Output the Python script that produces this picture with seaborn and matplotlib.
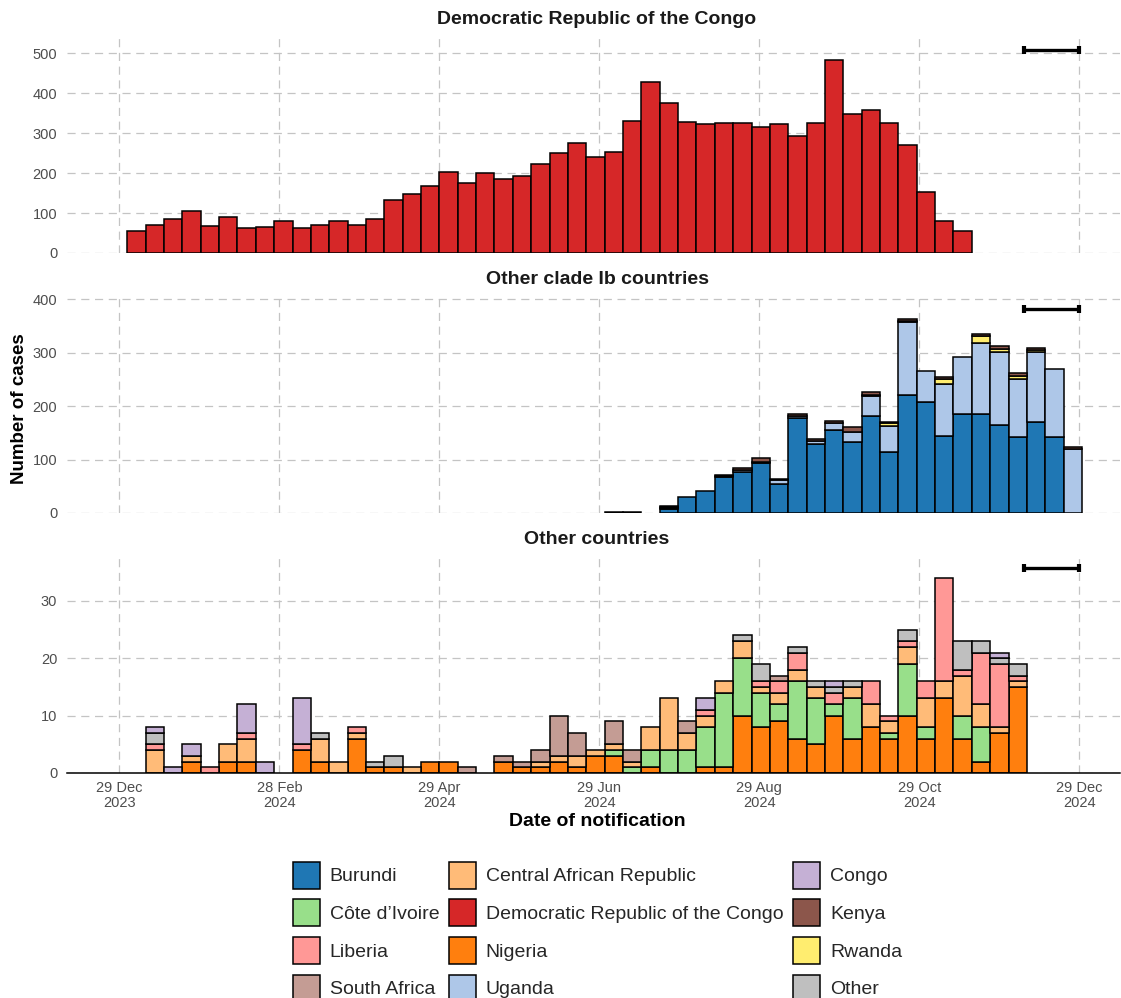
import numpy as np
import pandas as pd
import matplotlib
matplotlib.use("Agg")
import matplotlib.pyplot as plt
import matplotlib.dates as mdates
from matplotlib.patches import Patch
import seaborn as sns

# ---------------- data ----------------
week_start = "2024-01-01"      # Monday of the first weekly bin
n_weeks = 52

drc = [56, 71, 85, 105, 67, 90, 62, 64, 80, 63,
       71, 80, 70, 85, 132, 147, 167, 202, 175, 200,
       185, 193, 224, 250, 275, 241, 253, 332, 428, 377,
       327, 323, 325, 326, 316, 322, 293, 325, 484, 349,
       358, 325, 271, 154, 79, 54, 0, 0, 0, 0,
       0, 0]

burundi = [0] * 26 + [1, 1, 0, 7, 30, 42, 67, 77, 94, 55,
                      177, 130, 155, 133, 182, 115, 220, 208, 144, 185,
                      185, 164, 143, 170, 143, 0]
uganda = [0] * 26 + [0, 0, 0, 2, 0, 0, 2, 4, 2, 6,
                     5, 5, 14, 19, 37, 48, 137, 57, 97, 106,
                     133, 138, 108, 132, 126, 119]
rwanda = [0] * 26 + [0, 0, 0, 3, 0, 0, 0, 0, 0, 0,
                     0, 0, 0, 0, 2, 5, 2, 0, 10, 0,
                     14, 5, 5, 3, 0, 0]
kenya = [0] * 26 + [0, 0, 0, 2, 0, 0, 2, 3, 7, 3,
                    4, 3, 4, 8, 6, 3, 4, 0, 4, 0,
                    3, 5, 6, 3, 0, 4]

nigeria = [0, 0, 0, 2, 0, 2, 2, 0, 0, 4,
           2, 0, 6, 1, 1, 0, 2, 2, 0, 0,
           2, 1, 1, 2, 1, 3, 3, 0, 1, 0,
           0, 1, 1, 10, 8, 9, 6, 5, 10, 6,
           8, 6, 10, 6, 13, 6, 2, 7, 15, 0,
           0, 0]
cote_divoire = [0] * 20 + [0, 0, 0, 0, 0, 0, 1, 1, 3, 4,
                           4, 7, 13, 10, 6, 3, 10, 8, 2, 7,
                           0, 1, 9, 2, 0, 4, 6, 0, 0, 0,
                           0, 0]
car = [0, 4, 0, 1, 0, 3, 4, 0, 0, 0,
       4, 2, 1, 0, 0, 1, 0, 0, 0, 0,
       0, 0, 1, 1, 2, 1, 1, 1, 4, 9,
       3, 2, 2, 3, 1, 2, 2, 2, 0, 2,
       4, 2, 3, 5, 3, 7, 4, 1, 1, 0,
       0, 0]
liberia = [0, 1, 0, 0, 1, 0, 1, 0, 0, 1,
           0, 0, 1, 0, 0, 0, 0, 0, 0, 0,
           0, 0, 0, 0, 0, 0, 0, 0, 0, 0,
           0, 1, 0, 0, 1, 2, 3, 0, 2, 0,
           4, 1, 1, 3, 18, 1, 9, 11, 1, 0,
           0, 0]
south_africa = [0] * 10 + [0, 0, 0, 0, 0, 0, 0, 0, 1, 0,
                           1, 1, 2, 7, 4, 0, 4, 2, 0, 0,
                           2, 0, 0, 0, 0, 1, 0, 0, 0, 0] + [0] * 12
other = [0, 2, 0, 0, 0, 0, 0, 0, 0, 0,
         1, 0, 0, 1, 2, 0, 0, 0, 0, 0,
         0, 0, 0, 0, 0, 0, 0, 0, 0, 0,
         0, 0, 0, 1, 3, 0, 1, 1, 1, 1,
         0, 0, 2, 0, 0, 5, 2, 1, 2, 0,
         0, 0]
congo = [0, 1, 1, 2, 0, 0, 5, 2, 0, 8] + [0] * 20 + \
        [0, 2, 0, 0, 0, 0, 0, 0, 1, 0,
         0, 0, 0, 0, 0, 0, 0, 1, 0, 0,
         0, 0]

CIV = "Côte d\u2019Ivoire"
DRC = "Democratic Republic of the Congo"

series = {
    DRC: drc,
    "Burundi": burundi, "Uganda": uganda, "Rwanda": rwanda, "Kenya": kenya,
    "Nigeria": nigeria, CIV: cote_divoire,
    "Central African Republic": car, "Liberia": liberia,
    "South Africa": south_africa, "Other": other, "Congo": congo,
}

panels = [DRC, "Other clade Ib countries", "Other countries"]
# stacking order bottom -> top within each panel
panel_countries = {
    panels[0]: [DRC],
    panels[1]: ["Burundi", "Uganda", "Rwanda", "Kenya"],
    panels[2]: ["Nigeria", CIV, "Central African Republic", "Liberia",
                "South Africa", "Other", "Congo"],
}
panel_yticks = {panels[0]: [0, 100, 200, 300, 400, 500],
                panels[1]: [0, 100, 200, 300, 400],
                panels[2]: [0, 10, 20, 30]}

colors = {
    "Burundi": "#1f77b4", "Central African Republic": "#ffbb78", "Congo": "#c5b0d5",
    CIV: "#98df8a", DRC: "#d62728",
    "Kenya": "#8c564b", "Liberia": "#ff9896", "Nigeria": "#ff7f0e",
    "Rwanda": "#ffed6f", "South Africa": "#c49c94", "Uganda": "#aec7e8",
    "Other": "#bfbfbf",
}
legend_order = ["Burundi", "Central African Republic", "Congo",
                CIV, DRC, "Kenya",
                "Liberia", "Nigeria", "Rwanda",
                "South Africa", "Uganda", "Other"]

tick_dates = ["2023-12-29", "2024-02-28", "2024-04-29", "2024-06-29",
              "2024-08-29", "2024-10-29", "2024-12-29"]
tick_labels = ["29 Dec\n2023", "28 Feb\n2024", "29 Apr\n2024", "29 Jun\n2024",
               "29 Aug\n2024", "29 Oct\n2024", "29 Dec\n2024"]
delay_window = ["2024-12-08", "2024-12-29"]
x_range = ["2023-12-09 00:00", "2025-01-13 12:00"]


def to_num(dates):
    return mdates.date2num(pd.to_datetime(dates, format="mixed").to_pydatetime())


# ---------------- build long table ----------------
weeks = pd.date_range(week_start, periods=n_weeks, freq="7D")
wnum = mdates.date2num(weeks.to_pydatetime())
edges = [float(v) for v in np.append(wnum, wnum[-1] + 7)]
rows = []
for country, vals in series.items():
    for w, v in zip(wnum, vals):
        if v > 0:
            rows.append({"week": w + 3.5, "country": country, "cases": v})
df = pd.DataFrame(rows)
df["panel"] = df["country"].map({c: p for p, cs in panel_countries.items() for c in cs})

# ---------------- style ----------------
sns.set_style("white")
plt.rcParams["font.family"] = ["Liberation Sans", "DejaVu Sans"]

W, H = 1121, 998
fig = plt.figure(figsize=(W / 100, H / 100), dpi=100)

left_px, right_px = 67, 1120
panel_px = [(37, 253), (296, 513), (555, 773)]   # (top, bottom) in pixels
title_y = [19, 279, 539]

grid_kw = dict(color="#c4c4c4", linestyle=(0, (6.5, 4.5)), linewidth=0.9)
tick_color = "#4d4d4d"

xnum_ticks = to_num(tick_dates)
xlim = to_num(x_range)
dw = to_num(delay_window)

for i, pname in enumerate(panels):
    top, bot = panel_px[i]
    ax = fig.add_axes([left_px / W, 1 - bot / H, (right_px - left_px) / W, (bot - top) / H])
    sub = df[df["panel"] == pname]
    order = panel_countries[pname][::-1]   # seaborn puts first hue level on top
    sns.histplot(data=sub, x="week", weights="cases", hue="country", hue_order=order,
                 multiple="stack", bins=edges, palette=colors, edgecolor="black",
                 linewidth=1.1, alpha=1, legend=False, ax=ax)
    for p in list(ax.patches):
        if p.get_height() <= 0:
            p.remove()

    totals = sub.groupby("week")["cases"].sum()
    ybar = 1.05 * totals.max()
    ax.errorbar([(dw[0] + dw[1]) / 2], [ybar], xerr=[(dw[1] - dw[0]) / 2], fmt="none",
                ecolor="black", elinewidth=2.4, capsize=3.0, capthick=3.0, zorder=5)

    ax.set_xlim(xlim)
    ax.set_ylim(0, ybar * 1.065)
    ax.set_yticks(panel_yticks[pname])
    ax.set_xticks(xnum_ticks)
    ax.set_axisbelow(True)
    ax.grid(True, axis="both", **grid_kw)
    ax.set_xlabel("")
    ax.set_ylabel("")
    for s in ax.spines.values():
        s.set_visible(False)
    ax.tick_params(axis="y", length=0, pad=7, labelsize=10.5, labelcolor=tick_color)
    if i < 2:
        ax.tick_params(axis="x", length=0, labelbottom=False)
    else:
        ax.spines["bottom"].set_visible(True)
        ax.spines["bottom"].set_color("black")
        ax.spines["bottom"].set_linewidth(1.1)
        ax.set_xticklabels(tick_labels, linespacing=1.15)
        ax.tick_params(axis="x", length=3.5, width=1.0, color="black", pad=2,
                       labelsize=10.5, labelcolor=tick_color)
    fig.text(597 / W, 1 - title_y[i] / H, pname, ha="center", va="center",
             fontsize=14, fontweight="bold", color="#1a1a1a")

fig.text(20 / W, 1 - 409 / H, "Number of cases", rotation=90, ha="center", va="center",
         fontsize=13.5, fontweight="bold", color="black")
fig.text(597 / W, 1 - 822 / H, "Date of notification", ha="center", va="center",
         fontsize=14, fontweight="bold", color="black")

# legend: matplotlib fills column-major, so reorder the row-major list
ncol = 3
nrow = int(np.ceil(len(legend_order) / ncol))
col_major = [legend_order[r * ncol + c] for c in range(ncol) for r in range(nrow)]
handles = [Patch(facecolor=colors[c], edgecolor="black", linewidth=1.1, label=c)
           for c in col_major]
fig.legend(handles=handles, ncol=ncol, loc="upper left",
           bbox_to_anchor=(293 / W, 1 - 861.5 / H), frameon=False,
           fontsize=14, handlelength=1.39, handleheight=1.76, handletextpad=0.5,
           labelspacing=0.55, columnspacing=0.5, borderpad=0, borderaxespad=0)

fig.savefig("out.png", dpi=100)
